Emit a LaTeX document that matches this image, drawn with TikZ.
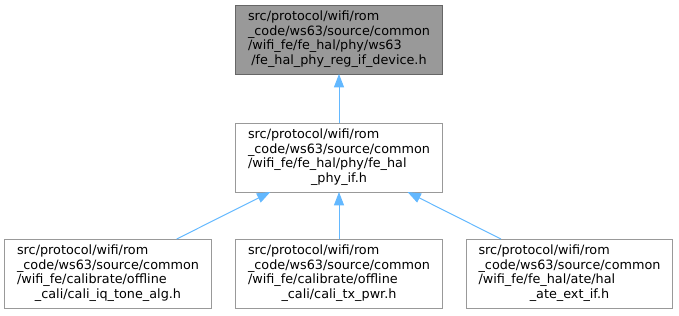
\documentclass[tikz,border=0pt]{standalone}
\usepackage{fontspec}
\setmainfont{DejaVu Sans}
\usetikzlibrary{arrows.meta}
\definecolor{edgeblue}{HTML}{63B8FF}
\definecolor{boxgray}{HTML}{999999}
\definecolor{boxdark}{HTML}{666666}
\newcommand{\flabel}[4]{\begin{tabular}{@{}l@{}}#1\\#2\\#3\\\multicolumn{1}{@{}c@{}}{#4}\end{tabular}}

\begin{document}
\begin{tikzpicture}[x=0.75pt, y=-0.75pt,
    file/.style={draw=boxgray, fill=white, line width=0.75pt, inner sep=0pt, outer sep=0pt,
      minimum width=155pt, minimum height=51.75pt, font=\fontsize{9.6}{11}\selectfont},
    current/.style={file, draw=boxdark, fill=boxgray},
    edge/.style={draw=edgeblue, line width=0.75pt, -{Triangle[length=10pt, width=7.5pt]}}]
    \useasboundingbox (0,0) rectangle (679,315);
    \node[current] (device) at (339,39.5)    {\flabel{src/protocol/wifi/rom}{\_code/ws63/source/common}{/wifi\_fe/fe\_hal/phy/ws63}{/fe\_hal\_phy\_reg\_if\_device.h}};
    \node[file]    (phyif)  at (339,157.5)   {\flabel{src/protocol/wifi/rom}{\_code/ws63/source/common}{/wifi\_fe/fe\_hal/phy/fe\_hal}{\_phy\_if.h}};
    \node[file]    (iqtone) at (108,273.5)   {\flabel{src/protocol/wifi/rom}{\_code/ws63/source/common}{/wifi\_fe/calibrate/offline}{\_cali/cali\_iq\_tone\_alg.h}};
    \node[file]    (txpwr)  at (339,273.5)   {\flabel{src/protocol/wifi/rom}{\_code/ws63/source/common}{/wifi\_fe/calibrate/offline}{\_cali/cali\_tx\_pwr.h}};
    \node[file]    (ateext) at (569.5,273.5) {\flabel{src/protocol/wifi/rom}{\_code/ws63/source/common}{/wifi\_fe/fe\_hal/ate/hal}{\_ate\_ext\_if.h}};
    \draw[edge] (phyif) -- (device);
    \draw[edge] (iqtone) -- (phyif);
    \draw[edge] (txpwr) -- (phyif);
    \draw[edge] (ateext) -- (phyif);
  \end{tikzpicture}
\end{document}
